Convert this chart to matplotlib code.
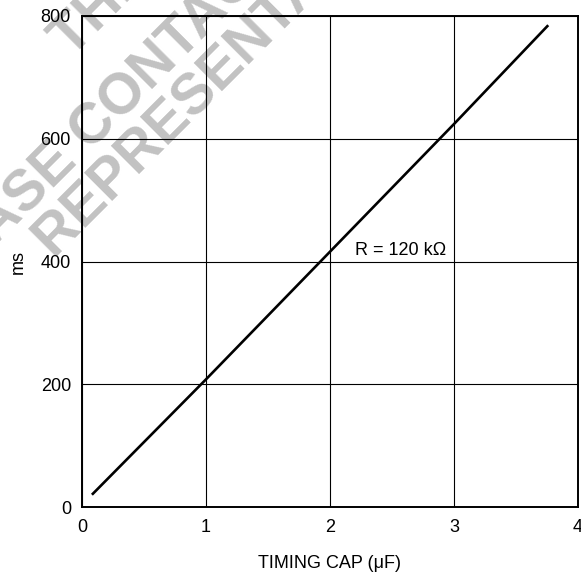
import matplotlib
matplotlib.use('Agg')
import matplotlib.pyplot as plt

# values
cap_uf = [0.08, 1.0, 2.0, 3.0, 3.76]
time_ms = [20, 208, 416, 624, 785]

x_ticks = [0, 1, 2, 3, 4]
y_ticks = [0, 200, 400, 600, 800]

# watermark lines and where each one starts (baseline, in pixels)
watermark = [
    'THIS DEVICE IS NOT RECOMMENDED FOR NEW DESIGN',
    'PLEASE CONTACT YOUR ON SEMICONDUCTOR',
    'REPRESENTATIVE FOR INFORMATION',
]
wm_start = [(72, 59), (-82, 325), (55, 260)]

plt.rcParams['font.family'] = ['Liberation Sans', 'DejaVu Sans']

W, H = 581, 578
fig = plt.figure(figsize=(W / 100, H / 100), dpi=100)
ax = fig.add_axes([82 / W, 1 - 507 / H, 496 / W, 491 / H])
ax.set_zorder(1)
ax.patch.set_alpha(0)

for text, (px, py) in zip(watermark, wm_start):
    fig.text(px / W, 1 - py / H, text, rotation=45, rotation_mode='anchor',
             ha='left', va='baseline', fontsize=41, fontweight='bold',
             color='#c2c2c2', zorder=0)

ax.plot(cap_uf, time_ms, color='black', lw=1.9, solid_capstyle='butt')

ax.set_xlim(0, 4)
ax.set_ylim(0, 800)
ax.set_xticks(x_ticks)
ax.set_yticks(y_ticks)
ax.grid(True, color='black', lw=0.8)
ax.tick_params(length=0, labelsize=13)
ax.tick_params(axis='x', pad=9)
ax.tick_params(axis='y', pad=8)
for s in ax.spines.values():
    s.set_linewidth(1.4)

ax.set_xlabel('TIMING CAP (\u03bcF)', fontsize=13, labelpad=13)
ax.set_ylabel('ms', fontsize=13, labelpad=10)

ax.text(2.2, 418, 'R = 120 k\u03a9', fontsize=13, va='center', ha='left')

fig.savefig('out.png', dpi=100)
